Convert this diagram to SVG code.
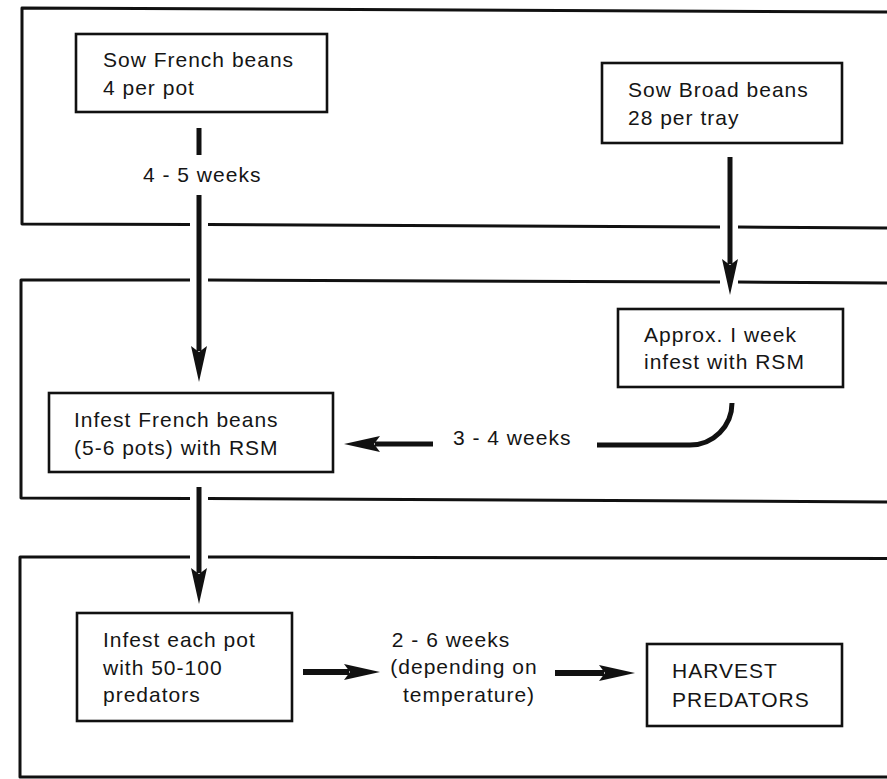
<svg xmlns="http://www.w3.org/2000/svg" width="887" height="779" viewBox="0 0 887 779">
<style>
.panel{fill:none;stroke:#111;stroke-width:3;stroke-linejoin:round}
.box{fill:#fff;stroke:#111;stroke-width:2.6}
.t{font-family:"Liberation Sans",Arial,sans-serif;font-size:21px;fill:#151515;letter-spacing:1px}
.c{stroke:#111;stroke-width:5;fill:none}
.c6{stroke:#111;stroke-width:6;fill:none}
</style>
<defs>
<marker id="ah" viewBox="0 0 36 18" refX="5" refY="9" markerWidth="36" markerHeight="18" markerUnits="userSpaceOnUse" orient="auto">
<path d="M0,1 L36,9 L0,17 L6,9 Z" fill="#111"/>
</marker>
</defs>
<rect width="887" height="779" fill="#fff"/>
<g id="panels">
<path class="panel" d="M890,12 L22,8 L22,224 L190,224.5 M208,224.6 L720,227 M738,227 L890,228"/>
<path class="panel" d="M190,280 L21,280 L21,498 L190,498.5 M208,498.5 L890,502 M208,280 L720,282 M738,282 L890,283"/>
<path class="panel" d="M190,557 L20,557 L20,777 L890,777 M208,557 L890,558.5"/>
</g>
<g id="connectors">
<line class="c" x1="199" y1="128" x2="199" y2="155"/>
<line class="c" x1="199" y1="195" x2="199" y2="351" marker-end="url(#ah)"/>
<line class="c" x1="730" y1="157" x2="730" y2="264" marker-end="url(#ah)"/>
<path class="c" d="M597,445 H690 A42,42 0 0 0 732,403" stroke-width="5.5"/>
<line class="c" x1="433" y1="444" x2="375" y2="444" marker-end="url(#ah)"/>
<line class="c" x1="199" y1="487" x2="199" y2="573" marker-end="url(#ah)"/>
<line class="c6" x1="303" y1="672" x2="349" y2="672" marker-end="url(#ah)"/>
<line class="c6" x1="555" y1="673" x2="604" y2="673" marker-end="url(#ah)"/>
<text class="t" x="143" y="182">4 - 5 weeks</text>
<text class="t" x="453" y="445" letter-spacing="1.8">3 - 4 weeks</text>
<text class="t" text-anchor="middle" x="451" y="647">2 - 6 weeks</text>
<text class="t" text-anchor="middle" x="464" y="674">(depending on</text>
<text class="t" text-anchor="middle" x="469" y="702">temperature)</text>
</g>
<g id="sow-french">
<rect class="box" x="76" y="34" width="251" height="78"/>
<text class="t" x="103" y="67">Sow French beans</text>
<text class="t" x="103" y="95">4 per pot</text>
</g>
<g id="sow-broad">
<rect class="box" x="602" y="63" width="240" height="80"/>
<text class="t" x="628" y="97">Sow Broad beans</text>
<text class="t" x="628" y="125">28 per tray</text>
</g>
<g id="approx-week">
<rect class="box" x="618" y="309" width="225" height="78"/>
<text class="t" x="644" y="342">Approx. I week</text>
<text class="t" x="644" y="369">infest with RSM</text>
</g>
<g id="infest-french">
<rect class="box" x="49" y="393" width="284" height="79"/>
<text class="t" x="74" y="427">Infest French beans</text>
<text class="t" x="74" y="455">(5-6  pots) with RSM</text>
</g>
<g id="infest-pot">
<rect class="box" x="77" y="613" width="215" height="108"/>
<text class="t" x="103" y="647">Infest each pot</text>
<text class="t" x="103" y="675">with 50-100</text>
<text class="t" x="103" y="702">predators</text>
</g>
<g id="harvest">
<rect class="box" x="647" y="644" width="195" height="82"/>
<text class="t" x="672" y="678">HARVEST</text>
<text class="t" x="672" y="707">PREDATORS</text>
</g>
</svg>
